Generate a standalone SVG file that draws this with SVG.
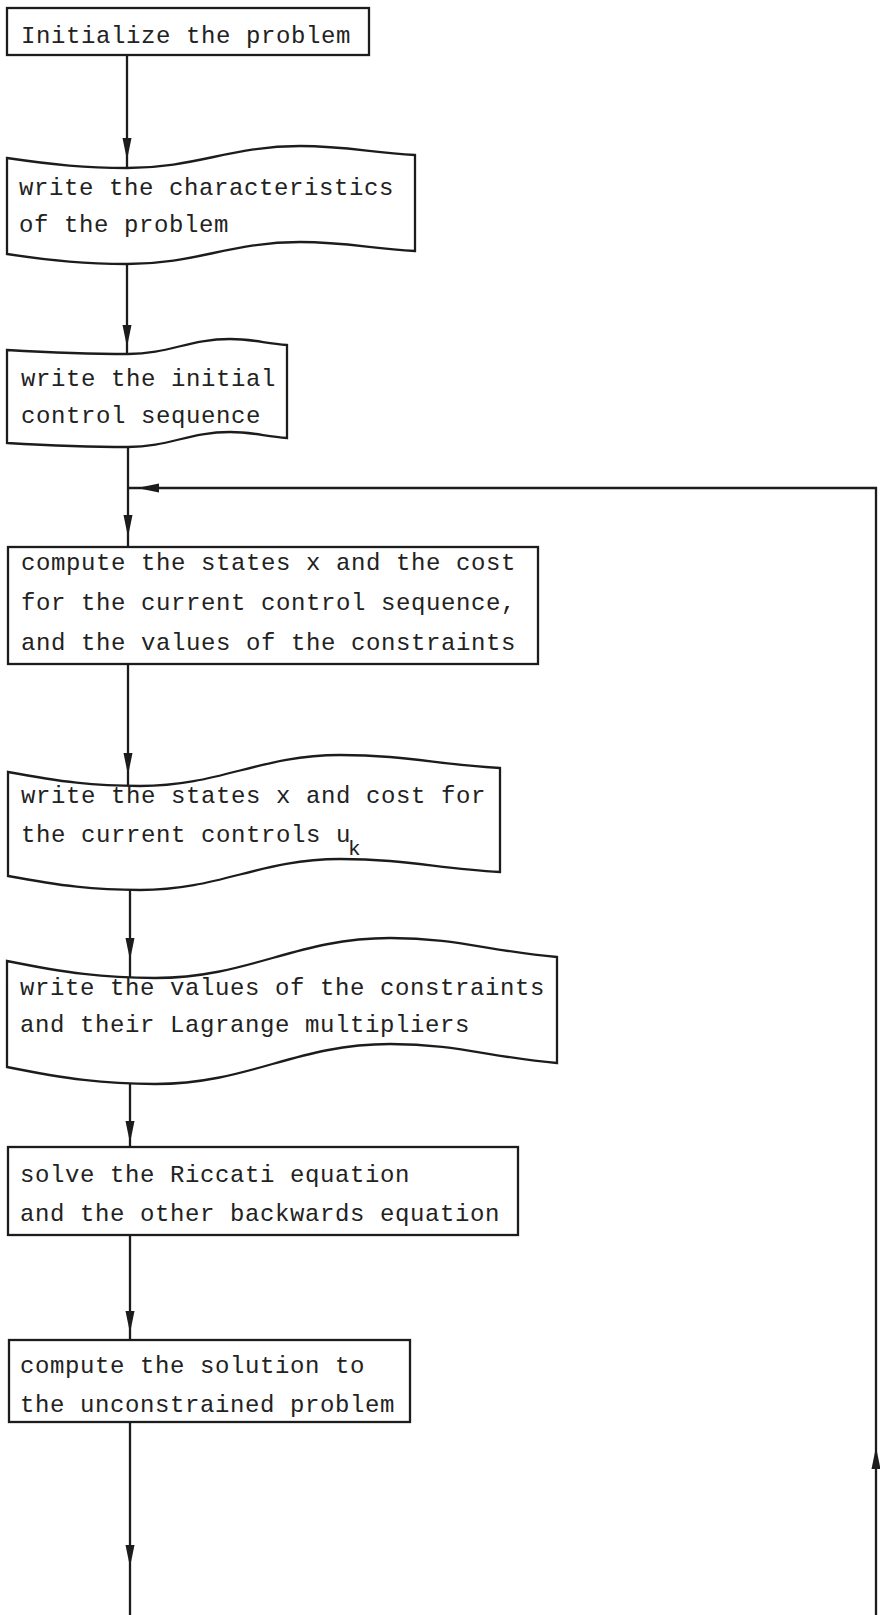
<svg xmlns="http://www.w3.org/2000/svg" xmlns:xlink="http://www.w3.org/1999/xlink" width="880" height="1615" viewBox="0 0 880 1615">
<style>
.box{fill:#ffffff;stroke:#1c1c1c;stroke-width:2.3;stroke-linejoin:miter}
.ln{fill:none;stroke:#1c1c1c;stroke-width:2.3}
.ah{fill:#1c1c1c;stroke:none}
.t{font-family:"Liberation Mono","DejaVu Sans Mono",monospace;font-size:24px;letter-spacing:0.6px;fill:#222222}
.sub{font-size:21px}
</style>
<defs>
<path id="ah" d="M0,0 L-4.5,-22 L4.5,-22 Z"/>
</defs>
<rect x="0" y="0" width="880" height="1615" fill="#ffffff"/>

<g id="connectors">
<line class="ln" x1="127" y1="55" x2="127" y2="167"/>
<line class="ln" x1="127" y1="264" x2="127" y2="354"/>
<line class="ln" x1="128" y1="447" x2="128" y2="547"/>
<line class="ln" x1="128" y1="664" x2="128" y2="786"/>
<line class="ln" x1="130" y1="890" x2="130" y2="977"/>
<line class="ln" x1="130" y1="1084" x2="130" y2="1147"/>
<line class="ln" x1="130" y1="1235" x2="130" y2="1340"/>
<line class="ln" x1="130" y1="1422" x2="130" y2="1615"/>
<path class="ln" d="M876,1615 L876,488 L128,488"/>
<use href="#ah" class="ah" transform="translate(127,160)"/>
<use href="#ah" class="ah" transform="translate(127,347)"/>
<use href="#ah" class="ah" transform="translate(128,537)"/>
<use href="#ah" class="ah" transform="translate(128,775)"/>
<use href="#ah" class="ah" transform="translate(130,960)"/>
<use href="#ah" class="ah" transform="translate(130,1143)"/>
<use href="#ah" class="ah" transform="translate(130,1333)"/>
<use href="#ah" class="ah" transform="translate(130,1567)"/>
<use href="#ah" class="ah" transform="translate(137,488) rotate(90)"/>
<use href="#ah" class="ah" transform="translate(876,1447) rotate(180)"/>
</g>

<g id="n1">
<rect class="box" x="7" y="8" width="362" height="47"/>
<text class="t" x="21" y="43">Initialize the problem</text>
</g>

<g id="n2">
<path class="box" d="M7,158 C55,165 85,168 127,168 C196,168 231,146 300,146 C346,146 369,152.3 415,155 L415,251 C369,248.3 346,242 300,242 C231,242 196,264 127,264 C85,264 55,261 7,254 Z"/>
<text class="t" x="19" y="195">write the characteristics</text>
<text class="t" x="19" y="232">of the problem</text>
</g>

<g id="n3">
<path class="box" d="M7,350 C55.4,352.8 85.6,354 128,354 C168.8,354 189.2,339 230,339 C252.8,339 264.2,343.2 287,345 L287,438 C264.2,436.2 252.8,432 230,432 C189.2,432 168.8,447 128,447 C85.6,447 55.4,445.8 7,443 Z"/>
<text class="t" x="21" y="386">write the initial</text>
<text class="t" x="21" y="423">control sequence</text>
</g>

<g id="n4">
<rect class="box" x="8" y="547" width="530" height="117"/>
<text class="t" x="21" y="570">compute the states x and the cost</text>
<text class="t" x="21" y="610">for the current control sequence,</text>
<text class="t" x="21" y="650">and the values of the constraints</text>
</g>

<g id="n5">
<path class="box" d="M8,772 C60.8,781.8 93.8,786 140,786 C220,786 260,755 340,755 C404,755 436,764.1 500,768 L500,872 C436,868.1 404,859 340,859 C260,859 220,890 140,890 C93.8,890 60.8,885.8 8,876 Z"/>
<text class="t" x="21" y="803">write the states x and cost for</text>
<text class="t" x="21" y="842">the current controls u<tspan class="sub" dx="-3" dy="13">k</tspan></text>
</g>

<g id="n6">
<path class="box" d="M7,961 C66.2,972.9 103.2,978 155,978 C249,978 296,938 390,938 C456.8,938 490.2,951.3 557,957 L557,1063 C490.2,1057.3 456.8,1044 390,1044 C296,1044 249,1084 155,1084 C103.2,1084 66.2,1078.9 7,1067 Z"/>
<text class="t" x="20" y="995">write the values of the constraints</text>
<text class="t" x="20" y="1032">and their Lagrange multipliers</text>
</g>

<g id="n7">
<rect class="box" x="8" y="1147" width="510" height="88"/>
<text class="t" x="20" y="1182">solve the Riccati equation</text>
<text class="t" x="20" y="1221">and the other backwards equation</text>
</g>

<g id="n8">
<rect class="box" x="9" y="1340" width="401" height="82"/>
<text class="t" x="20" y="1373">compute the solution to</text>
<text class="t" x="20" y="1412">the unconstrained problem</text>
</g>
</svg>
